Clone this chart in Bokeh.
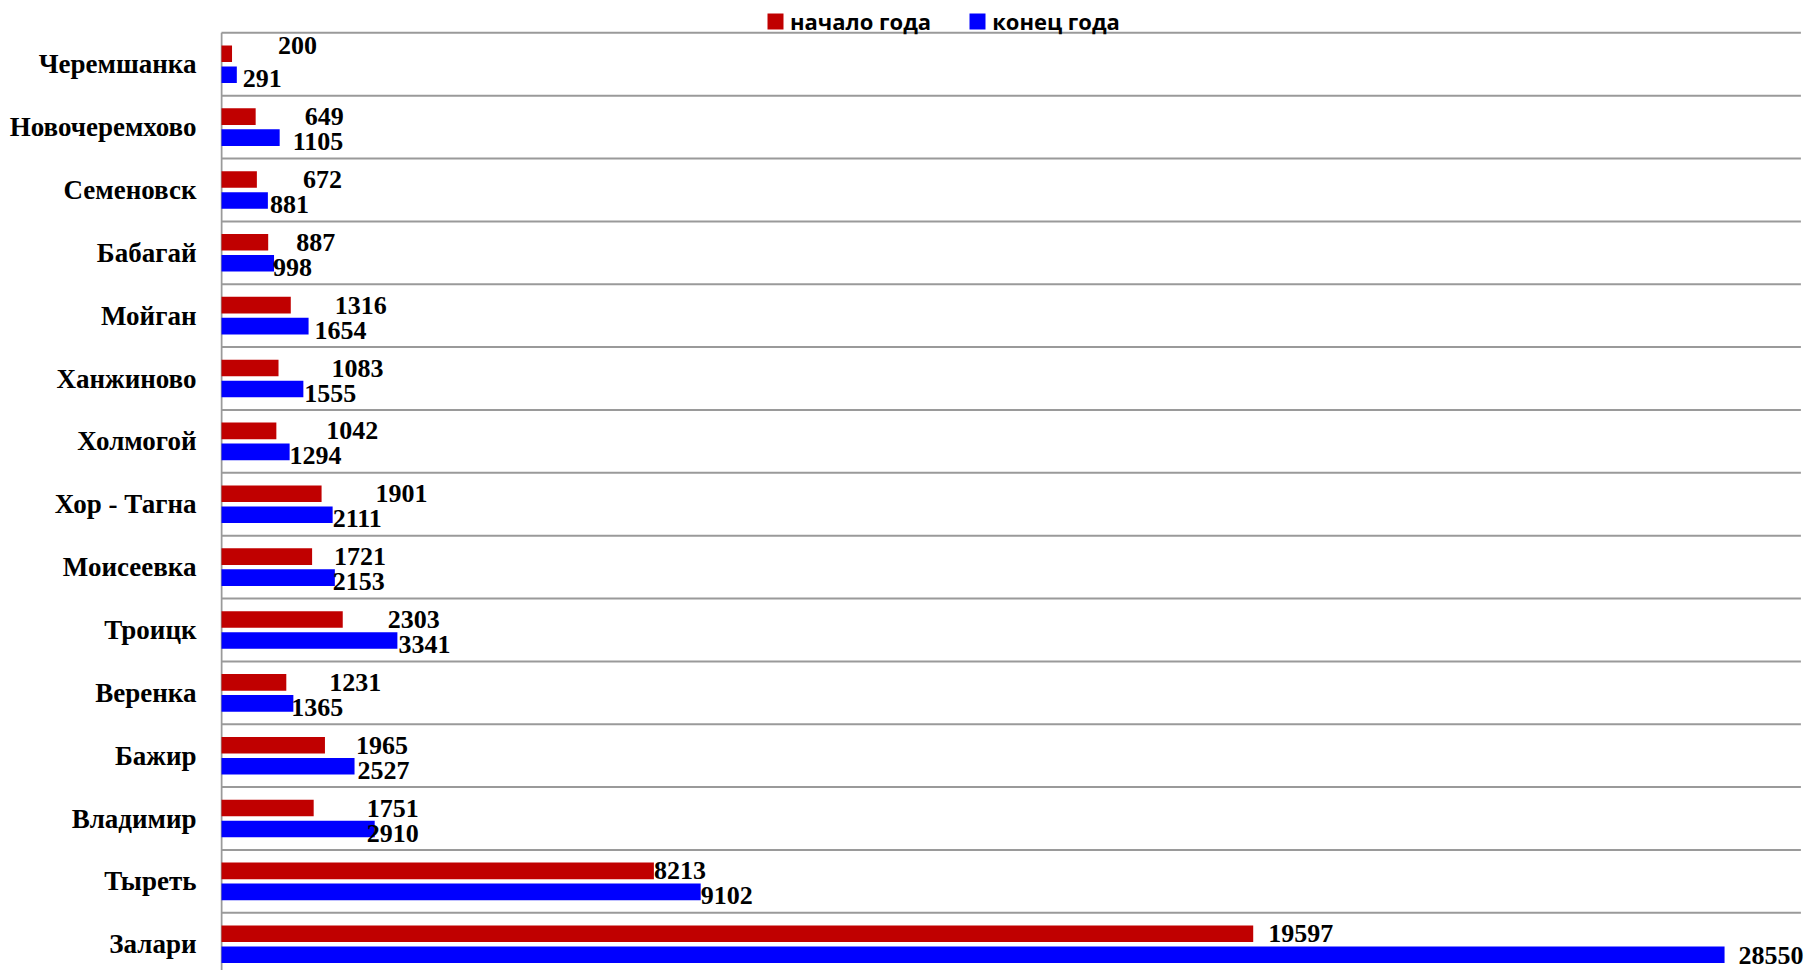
from bokeh.plotting import figure
from bokeh.models import ColumnDataSource, Range1d, FixedTicker, LabelSet, Legend, LegendItem
from bokeh.embed import file_html
from bokeh.resources import INLINE

# ---- data ----
categories = ["Черемшанка", "Новочеремхово", "Семеновск", "Бабагай", "Мойган",
              "Ханжиново", "Холмогой", "Хор - Тагна", "Моисеевка", "Троицк",
              "Веренка", "Бажир", "Владимир", "Тыреть", "Залари"]
start_year = [200, 649, 672, 887, 1316, 1083, 1042, 1901, 1721, 2303, 1231, 1965, 1751, 8213, 19597]
end_year = [291, 1105, 881, 998, 1654, 1555, 1294, 2111, 2153, 3341, 1365, 2527, 2910, 9102, 28550]
series_names = ["начало года", "конец года"]
x_max = 30000

# ---- label nudges (screen px, style only) ----
red_nudge = [46, 49, 46, 28, 44, 53, 50, 54, 22, 45, 43, 31, 53, 0, 15]
blue_nudge = [6, 13, 2, -1, 6, 1, 0, 0, -2, 1, -2, 3, -8, 0, 14]
red_drop_px = [-8, 0, 0, 0, 0, 0, 0, 0, 0, 0, 0, 0, 0, 0, 0]
blue_drop_px = [4, 4, 4, 4, 4, 4, 4, 4, 4, 4, 4, 4, 4, 4, 1]

RED = "#C00000"
BLUE = "#0000FF"
GRID = "#9a9a9a"

W, H = 1810, 970
left_b = 220
frame_w = W - left_b
frame_h = H
n = len(categories)
ppu = 62.86                 # px per category band
ppx = 1579.4 / x_max        # px per value unit
plot_top_px = 32.3          # top edge of the plot area (px from top)
y_top = n - 0.5 + plot_top_px / ppu
y_bottom = y_top - frame_h / ppu
x_start = -1.0 / ppx
x_end = x_start + frame_w / ppx

centers = [n - 1 - i for i in range(n)]
off = 0.167
bar_h = 0.264

src = ColumnDataSource(dict(
    cat=categories,
    start=start_year,
    end=end_year,
    y_red=[c + off for c in centers],
    y_blue=[c - off for c in centers],
    y_red_lab=[c + off - d / ppu for c, d in zip(centers, red_drop_px)],
    y_blue_lab=[c - off - d / ppu for c, d in zip(centers, blue_drop_px)],
    start_txt=[str(v) for v in start_year],
    end_txt=[str(v) for v in end_year],
    red_nudge=red_nudge,
    blue_nudge=blue_nudge,
))

bounds = [i - 0.5 for i in range(n + 1)]
grid_src = ColumnDataSource(dict(y=bounds, x0=[0] * len(bounds), x1=[x_max] * len(bounds)))

p = figure(width=W, height=H, output_backend="svg", toolbar_location=None,
           x_range=Range1d(x_start, x_end), y_range=Range1d(y_bottom, y_top),
           x_axis_location=None,
           min_border_left=left_b, min_border_right=0,
           min_border_top=0, min_border_bottom=0)
p.outline_line_color = None
p.background_fill_color = "white"
p.xgrid.visible = False
p.ygrid.visible = False

# horizontal separators across the plot area (0 .. x_max)
p.segment(x0="x0", x1="x1", y0="y", y1="y", line_color=GRID, line_width=2, source=grid_src)
# vertical category axis line (from the top of the plot area down)
p.segment(x0=[0], x1=[0], y0=[n - 0.5], y1=[y_bottom], line_color=GRID, line_width=2)

ax = p.yaxis[0]
ax.ticker = FixedTicker(ticks=centers)
ax.major_label_overrides = {c: name for c, name in zip(centers, categories)}
ax.major_tick_line_color = None
ax.minor_tick_line_color = None
ax.major_tick_out = 0
ax.major_tick_in = 0
ax.axis_line_color = None
ax.major_label_text_font = "Liberation Serif"
ax.major_label_text_font_style = "bold"
ax.major_label_text_font_size = "27px"
ax.major_label_text_color = "black"
ax.major_label_standoff = 24

r_red = p.hbar(y="y_red", left=0, right="start", height=bar_h, fill_color=RED,
               line_color=None, source=src)
r_blue = p.hbar(y="y_blue", left=0, right="end", height=bar_h, fill_color=BLUE,
                line_color=None, source=src)

lab_kw = dict(text_font="Liberation Serif", text_font_style="bold",
              text_font_size="26px", text_color="black",
              text_align="left", text_baseline="middle", source=src)
p.add_layout(LabelSet(x="start", y="y_red_lab", text="start_txt", x_offset="red_nudge", **lab_kw))
p.add_layout(LabelSet(x="end", y="y_blue_lab", text="end_txt", x_offset="blue_nudge", **lab_kw))

legend = Legend(items=[LegendItem(label=series_names[0], renderers=[r_red]),
                       LegendItem(label=series_names[1], renderers=[r_blue])],
                orientation="horizontal", location=(545, 934),
                label_text_font="Open Sans", label_text_font_style="bold",
                label_text_font_size="22px", label_text_color="black",
                glyph_width=20, glyph_height=20, label_height=20,
                label_standoff=5, spacing=36,
                padding=0, margin=0, border_line_color=None,
                background_fill_alpha=0)
p.add_layout(legend)

open("out.html", "w").write(file_html(p, INLINE))
